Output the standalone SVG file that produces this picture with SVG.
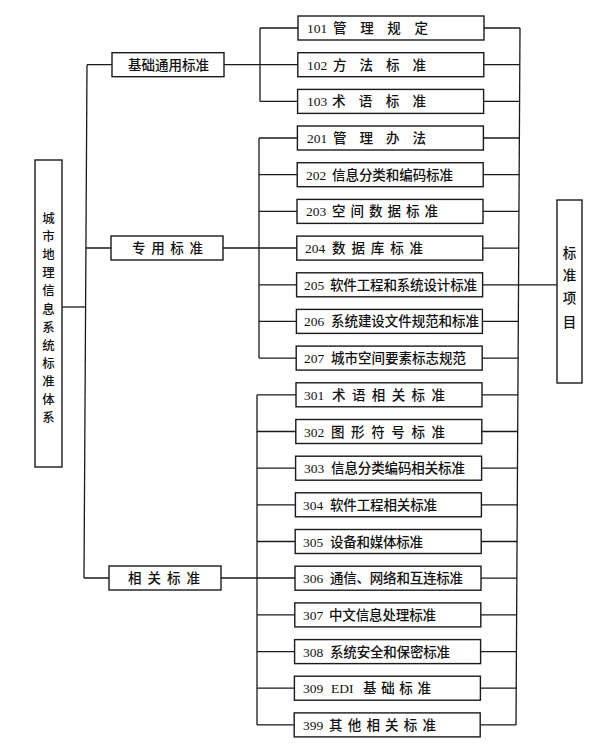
<svg xmlns="http://www.w3.org/2000/svg" width="610" height="753" viewBox="0 0 610 753">
<style>
.box{fill:#fff;stroke:#1a1a1a;stroke-width:1.4}
.ln{fill:none;stroke:#1a1a1a;stroke-width:1.3}
.cn{font-family:"Noto Sans CJK SC",sans-serif;font-size:13.5px;fill:#111;font-weight:500}
.nm{font-family:"Liberation Serif","Noto Sans CJK SC",serif;font-size:13.5px;fill:#111}
.vt{font-family:"Noto Sans CJK SC",sans-serif;font-size:13.5px;fill:#111;font-weight:500;text-anchor:middle}
.vs{font-family:"Noto Sans CJK SC",sans-serif;font-size:12.4px;fill:#111;font-weight:500;text-anchor:middle}
</style>
<rect width="610" height="753" fill="#fff"/>
<g id="connectors" class="ln">
<path d="M62 307H86"/>
<path d="M87 64.7L84 578"/>
<path d="M87 64.7H112M86 248H111M84 578H109"/>
<path d="M224 64.7H298M223 248H297M221 578H295"/>
<path d="M260 28V101.4"/>
<path d="M260 28H298M260 101.4H298"/>
<path d="M259 138V358.1"/>
<path d="M259 138H297M259 174.7H297M259 211.4H297M259 284.8H296M259 321.4H296M259 358.1H296"/>
<path d="M257 394.8V724.9"/>
<path d="M257 394.8H296M257 431.5H296M257 468.2H295M257 504.8H295M257 541.5H295M257 614.9H295M257 651.6H294M257 688.2H294M257 724.9H294"/>
<path d="M520 28L516 724.9"/>
<path d="M484 28H520M484 64.7H519.8M483.6 101.4H519.6M483.4 138H519.4M483.2 174.7H519.2M483 211.4H519M482.8 248.1H518.8M482.6 284.8H518.6M482.4 321.4H518.4M482.2 358.1H518.2M482 394.8H518M481.8 431.5H517.8M481.6 468.2H517.6M481.4 504.8H517.4M481.2 541.5H517.2M481 578.2H517M480.8 614.9H516.8M480.6 651.6H516.6M480.4 688.2H516.4M480.2 724.9H516.2"/>
<path d="M518.6 284.8H557"/>
</g>
<g id="root">
<rect class="box" x="35" y="160" width="27" height="307"/>
<text class="vs" x="48.5" y="223">城</text>
<text class="vs" x="48.5" y="241">市</text>
<text class="vs" x="48.5" y="259">地</text>
<text class="vs" x="48.5" y="277">理</text>
<text class="vs" x="48.5" y="295">信</text>
<text class="vs" x="48.5" y="314">息</text>
<text class="vs" x="48.5" y="332">系</text>
<text class="vs" x="48.5" y="350">统</text>
<text class="vs" x="48.5" y="368">标</text>
<text class="vs" x="48.5" y="386">准</text>
<text class="vs" x="48.5" y="404">体</text>
<text class="vs" x="48.5" y="422">系</text>
</g>
<g id="target">
<rect class="box" x="557" y="200" width="25" height="183"/>
<text class="vt" x="569.5" y="258">标</text>
<text class="vt" x="569.5" y="280">准</text>
<text class="vt" x="569.5" y="303">项</text>
<text class="vt" x="569.5" y="327">目</text>
</g>
<g id="cat1"><rect class="box" x="112" y="52.7" width="112" height="24"/><text class="cn" x="128" y="69.7" textLength="81" lengthAdjust="spacing">基础通用标准</text></g>
<g id="cat2"><rect class="box" x="111" y="236" width="112" height="24"/><text class="cn" x="132" y="253" textLength="71" lengthAdjust="spacing">专用标准</text></g>
<g id="cat3"><rect class="box" x="109" y="566" width="112" height="24"/><text class="cn" x="128" y="583" textLength="72" lengthAdjust="spacing">相关标准</text></g>
<g id="n101"><rect class="box" x="298" y="16" width="186" height="24"/><text class="nm" x="307" y="33">101</text><text class="cn" x="333" y="33" textLength="95" lengthAdjust="spacing">管理规定</text></g>
<g id="n102"><rect class="box" x="297.8" y="52.7" width="186" height="24"/><text class="nm" x="307" y="69.7">102</text><text class="cn" x="333" y="69.7" textLength="93" lengthAdjust="spacing">方法标准</text></g>
<g id="n103"><rect class="box" x="297.6" y="89.4" width="186" height="24"/><text class="nm" x="307" y="106.4">103</text><text class="cn" x="332" y="106.4" textLength="94" lengthAdjust="spacing">术语标准</text></g>
<g id="n201"><rect class="box" x="297.4" y="126" width="186" height="24"/><text class="nm" x="307" y="143">201</text><text class="cn" x="333" y="143" textLength="93" lengthAdjust="spacing">管理办法</text></g>
<g id="n202"><rect class="box" x="297.2" y="162.7" width="186" height="24"/><text class="nm" x="306" y="179.7">202</text><text class="cn" x="332" y="179.7" textLength="121" lengthAdjust="spacing">信息分类和编码标准</text></g>
<g id="n203"><rect class="box" x="297" y="199.4" width="186" height="24"/><text class="nm" x="306" y="216.4">203</text><text class="cn" x="332" y="216.4" textLength="106" lengthAdjust="spacing">空间数据标准</text></g>
<g id="n204"><rect class="box" x="296.8" y="236.1" width="186" height="24"/><text class="nm" x="305" y="253.1">204</text><text class="cn" x="332" y="253.1" textLength="91" lengthAdjust="spacing">数据库标准</text></g>
<g id="n205"><rect class="box" x="296.6" y="272.8" width="186" height="24"/><text class="nm" x="304" y="289.8">205</text><text class="cn" x="330" y="289.8" textLength="147" lengthAdjust="spacing">软件工程和系统设计标准</text></g>
<g id="n206"><rect class="box" x="296.4" y="309.4" width="186" height="24"/><text class="nm" x="304" y="326.4">206</text><text class="cn" x="331" y="326.4" textLength="148" lengthAdjust="spacing">系统建设文件规范和标准</text></g>
<g id="n207"><rect class="box" x="296.2" y="346.1" width="186" height="24"/><text class="nm" x="304" y="363.1">207</text><text class="cn" x="331" y="363.1" textLength="135" lengthAdjust="spacing">城市空间要素标志规范</text></g>
<g id="n301"><rect class="box" x="296" y="382.8" width="186" height="24"/><text class="nm" x="304" y="399.8">301</text><text class="cn" x="332" y="399.8" textLength="113" lengthAdjust="spacing">术语相关标准</text></g>
<g id="n302"><rect class="box" x="295.8" y="419.5" width="186" height="24"/><text class="nm" x="304" y="436.5">302</text><text class="cn" x="331" y="436.5" textLength="114" lengthAdjust="spacing">图形符号标准</text></g>
<g id="n303"><rect class="box" x="295.6" y="456.2" width="186" height="24"/><text class="nm" x="304" y="473.2">303</text><text class="cn" x="331" y="473.2" textLength="134" lengthAdjust="spacing">信息分类编码相关标准</text></g>
<g id="n304"><rect class="box" x="295.4" y="492.8" width="186" height="24"/><text class="nm" x="303" y="509.8">304</text><text class="cn" x="330" y="509.8" textLength="107" lengthAdjust="spacing">软件工程相关标准</text></g>
<g id="n305"><rect class="box" x="295.2" y="529.5" width="186" height="24"/><text class="nm" x="303" y="546.5">305</text><text class="cn" x="330" y="546.5" textLength="93" lengthAdjust="spacing">设备和媒体标准</text></g>
<g id="n306"><rect class="box" x="295" y="566.2" width="186" height="24"/><text class="nm" x="303" y="583.2">306</text><text class="cn" x="330" y="583.2" textLength="133" lengthAdjust="spacing">通信、网络和互连标准</text></g>
<g id="n307"><rect class="box" x="294.8" y="602.9" width="186" height="24"/><text class="nm" x="303" y="619.9">307</text><text class="cn" x="329" y="619.9" textLength="107" lengthAdjust="spacing">中文信息处理标准</text></g>
<g id="n308"><rect class="box" x="294.6" y="639.6" width="186" height="24"/><text class="nm" x="303" y="656.6">308</text><text class="cn" x="330" y="656.6" textLength="120" lengthAdjust="spacing">系统安全和保密标准</text></g>
<g id="n309"><rect class="box" x="294.4" y="676.2" width="186" height="24"/><text class="nm" x="303" y="693.2">309</text><text class="nm" x="331" y="693.2">EDI</text><text class="cn" x="363" y="693.2" textLength="68" lengthAdjust="spacing">基础标准</text></g>
<g id="n399"><rect class="box" x="294.2" y="712.9" width="186" height="24"/><text class="nm" x="303" y="729.9">399</text><text class="cn" x="329" y="729.9" textLength="107" lengthAdjust="spacing">其他相关标准</text></g>
</svg>
